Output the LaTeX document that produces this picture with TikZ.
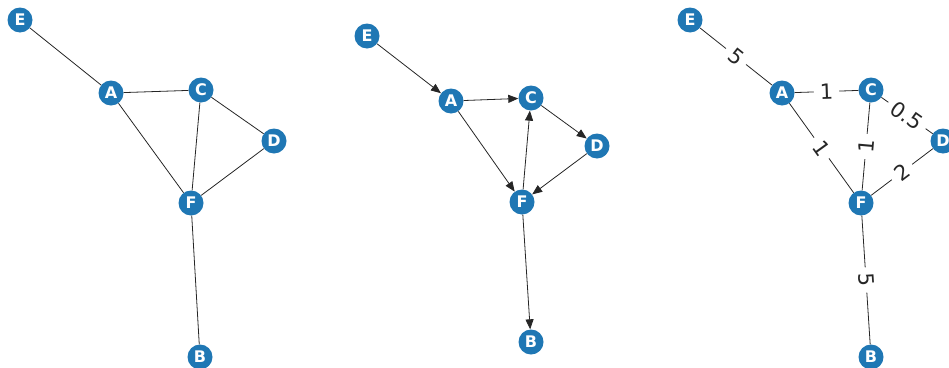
\documentclass[tikz,border=0pt]{standalone}
\usepackage{fontspec}
\setmainfont{DejaVu Sans}
\usetikzlibrary{arrows.meta}
\definecolor{nb}{HTML}{1F77B4}
\tikzset{
 vtx/.style={circle, fill=nb, minimum size=25pt, inner sep=0pt, text=white, font=\fontsize{16}{16}\selectfont\bfseries},
 edg/.style={line width=0.8pt, black!85},
 arc/.style={edg, -{Triangle[length=10pt,width=8pt]}},
 wlab/.style={fill=white, inner xsep=6pt, inner ysep=1pt, font=\fontsize{21}{21}\selectfont, sloped, midway}
}
\begin{document}
\begin{tikzpicture}[x=1pt,y=-1pt]
\useasboundingbox (0,0) rectangle (949,367);
\clip (0,0) rectangle (949,367);
% panel 1
\node[vtx] (E1) at (20,20) {E};
\node[vtx] (A1) at (111,93) {A};
\node[vtx] (C1) at (201,90) {C};
\node[vtx] (D1) at (274,141) {D};
\node[vtx] (F1) at (191,203) {F};
\node[vtx] (B1) at (200,357) {B};
\draw[edg] (E1) -- (A1);
\draw[edg] (A1) -- (C1);
\draw[edg] (A1) -- (F1);
\draw[edg] (C1) -- (D1);
\draw[edg] (C1) -- (F1);
\draw[edg] (D1) -- (F1);
\draw[edg] (F1) -- (B1);
% panel 2
\node[vtx] (E2) at (367,36) {E};
\node[vtx] (A2) at (451,101) {A};
\node[vtx] (C2) at (531,98) {C};
\node[vtx] (D2) at (597,146) {D};
\node[vtx] (F2) at (522,202) {F};
\node[vtx] (B2) at (531,342) {B};
\draw[arc] (E2) -- (A2);
\draw[arc] (A2) -- (C2);
\draw[arc] (A2) -- (F2);
\draw[arc] (C2) -- (D2);
\draw[arc] (F2) -- (C2);
\draw[arc] (D2) -- (F2);
\draw[arc] (F2) -- (B2);
% panel 3
\node[vtx] (E3) at (690,20) {E};
\node[vtx] (A3) at (782,93) {A};
\node[vtx] (C3) at (871,90) {C};
\node[vtx] (D3) at (943,141) {D};
\node[vtx] (F3) at (861,203) {F};
\node[vtx] (B3) at (871,357) {B};
\draw[edg] (E3) -- node[wlab] {5} (A3);
\draw[edg] (A3) -- node[wlab] {1} (C3);
\draw[edg] (A3) -- node[wlab] {1} (F3);
\draw[edg] (C3) -- node[wlab] {0.5} (D3);
\draw[edg] (C3) -- node[wlab] {1} (F3);
\draw[edg] (F3) -- node[wlab] {2} (D3);
\draw[edg] (F3) -- node[wlab] {5} (B3);
\end{tikzpicture}
\end{document}
